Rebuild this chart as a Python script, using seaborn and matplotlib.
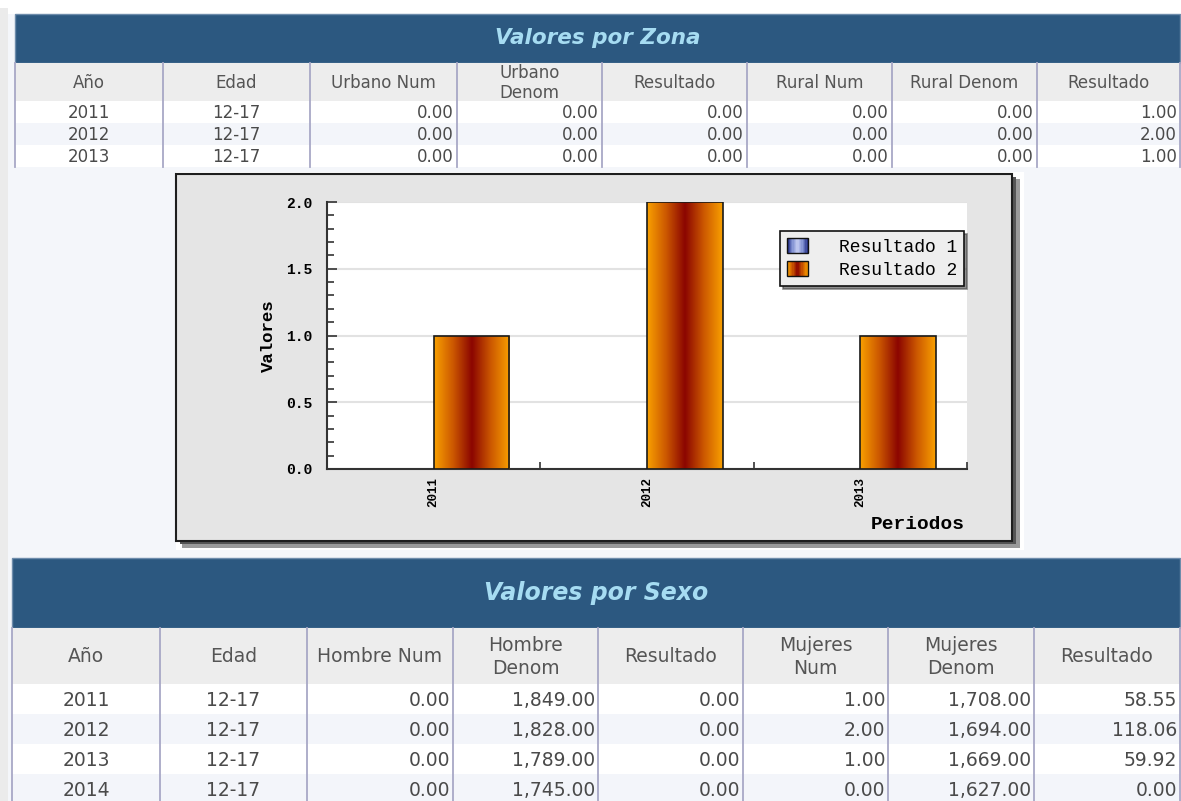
import matplotlib
matplotlib.use("Agg")
import matplotlib.pyplot as plt
import seaborn as sns
import pandas as pd
import numpy as np
from matplotlib.patches import Rectangle
from matplotlib.colors import LinearSegmentedColormap
from matplotlib.legend_handler import HandlerBase
from matplotlib.ticker import MultipleLocator, FixedLocator, FormatStrFormatter

W, H = 1181, 801

# --- Valores por Zona ---
anios_zona = ["2011", "2012", "2013"]
edad_zona = ["12-17", "12-17", "12-17"]
urbano_num = [0.0, 0.0, 0.0]
urbano_denom = [0.0, 0.0, 0.0]
resultado_urbano = [0.0, 0.0, 0.0]
rural_num = [0.0, 0.0, 0.0]
rural_denom = [0.0, 0.0, 0.0]
resultado_rural = [1.0, 2.0, 1.0]
cols_zona = ["Año", "Edad", "Urbano Num", "Urbano\nDenom", "Resultado",
             "Rural Num", "Rural Denom", "Resultado"]

# --- Valores por Sexo ---
anios_sexo = ["2011", "2012", "2013", "2014"]
edad_sexo = ["12-17", "12-17", "12-17", "12-17"]
hombre_num = [0.0, 0.0, 0.0, 0.0]
hombre_denom = [1849.0, 1828.0, 1789.0, 1745.0]
resultado_hombre = [0.0, 0.0, 0.0, 0.0]
mujeres_num = [1.0, 2.0, 1.0, 0.0]
mujeres_denom = [1708.0, 1694.0, 1669.0, 1627.0]
resultado_mujeres = [58.55, 118.06, 59.92, 0.00]
cols_sexo = ["Año", "Edad", "Hombre Num", "Hombre\nDenom", "Resultado",
             "Mujeres\nNum", "Mujeres\nDenom", "Resultado"]

# --- grafico ---
periodos = ["2011", "2012", "2013"]
series = ["Resultado 1", "Resultado 2"]

AZUL = "#2c5880"
TITULO = "#a6dcf2"
SEP = "#a8a8c6"
TXT = "#4a4a4a"

plt.rcParams["font.family"] = ["Liberation Mono", "DejaVu Sans"]

fig = plt.figure(figsize=(W / 100, H / 100), dpi=100, facecolor="#f4f6fa")
bg = fig.add_axes([0, 0, 1, 1])
bg.set_xlim(0, W)
bg.set_ylim(H, 0)
bg.axis("off")

bg.add_patch(Rectangle((0, 0), W, 14, fc="white", ec="none"))
bg.add_patch(Rectangle((0, 8), 8, H, fc="#ebebeb", ec="none"))


def fmt(v):
    return f"{v:,.2f}"


def tabla(titulo, cols, filas, xs, y_bar, y_head, y_rows, fs_t, fs, ls):
    x0, x1 = xs[0], xs[-1]
    bg.add_patch(Rectangle((x0, y_bar[0]), x1 - x0, y_bar[1] - y_bar[0],
                           fc=AZUL, ec="#6e8cab", lw=1))
    bg.text((x0 + x1) / 2, sum(y_bar) / 2, titulo, ha="center", va="center",
            color=TITULO, fontsize=fs_t, fontweight="bold", fontstyle="italic",
            family="DejaVu Sans")
    bg.add_patch(Rectangle((x0, y_head[0]), x1 - x0, y_head[1] - y_head[0],
                           fc="#ededed", ec="none"))
    for c, nombre in enumerate(cols):
        bg.text((xs[c] + xs[c + 1]) / 2, sum(y_head) / 2 + 1, nombre,
                ha="center", va="center", color="#555555", fontsize=fs,
                family="DejaVu Sans", linespacing=ls)
    for r, fila in enumerate(filas):
        top, bot = y_rows[r], y_rows[r + 1]
        bg.add_patch(Rectangle((x0, top), x1 - x0, bot - top,
                               fc="white" if r % 2 == 0 else "#f3f5fa", ec="none"))
        yc = (top + bot) / 2 + 1
        for c, val in enumerate(fila):
            if c < 2:
                bg.text((xs[c] + xs[c + 1]) / 2, yc, val, ha="center", va="center",
                        color=TXT, fontsize=fs, family="DejaVu Sans")
            else:
                bg.text(xs[c + 1] - 3, yc, val, ha="right", va="center",
                        color=TXT, fontsize=fs, family="DejaVu Sans")
    for x in xs:
        bg.plot([x, x], [y_head[0], y_rows[-1]], color=SEP, lw=1.3)


filas_zona = list(zip(anios_zona, edad_zona,
                      *[[fmt(v) for v in s] for s in
                        (urbano_num, urbano_denom, resultado_urbano,
                         rural_num, rural_denom, resultado_rural)]))
tabla("Valores por Zona", cols_zona, filas_zona,
      [15, 163, 310, 457, 602, 747, 892, 1037, 1180],
      (14, 63), (63, 101), [101, 123, 145, 167], 15.5, 12, 1.15)

filas_sexo = list(zip(anios_sexo, edad_sexo,
                      *[[fmt(v) for v in s] for s in
                        (hombre_num, hombre_denom, resultado_hombre,
                         mujeres_num, mujeres_denom, resultado_mujeres)]))
tabla("Valores por Sexo", cols_sexo, filas_sexo,
      [12, 160, 307, 453, 598, 743, 888, 1034, 1180],
      (558, 628), (628, 684), [684, 714, 744, 774, 804], 17, 13.5, 1.3)

# panel del grafico
bg.add_patch(Rectangle((176, 172), 848, 378, fc="white", ec="none"))
bg.add_patch(Rectangle((182, 179), 838, 369, fc="#9a9a9a", ec="none"))
bg.add_patch(Rectangle((180, 177), 836, 367, fc="#555555", ec="none"))
bg.add_patch(Rectangle((176, 174), 836, 367, fc="#e5e5e5", ec="#1e1e1e", lw=1.5))

ax = fig.add_axes([327 / W, 1 - 469 / H, 640 / W, 267 / H])
df = pd.DataFrame({
    "Periodo": periodos * 2,
    "Serie": [series[0]] * len(periodos) + [series[1]] * len(periodos),
    "Valor": resultado_urbano + resultado_rural,
})
sns.barplot(data=df, x="Periodo", y="Valor", hue="Serie", hue_order=series,
            palette={series[0]: "#4050a0", series[1]: "#d06000"},
            width=0.71, edgecolor="#1a1a1a", linewidth=1.2, legend=False,
            ax=ax, zorder=3)

naranja = LinearSegmentedColormap.from_list(
    "naranja", ["#f9a000", "#cc5800", "#8b0500", "#cc5800", "#f9a000"])
azul = LinearSegmentedColormap.from_list(
    "azul", ["#1f2b85", "#8090d2", "#c4ccf2", "#8090d2", "#1f2b85"])

grad = np.linspace(0, 1, 256).reshape(1, -1)
for p in list(ax.patches):
    if p.get_height() > 0:
        x, y, w, h = p.get_x(), p.get_y(), p.get_width(), p.get_height()
        im = ax.imshow(grad, cmap=naranja, extent=[x, x + w, y, y + h],
                       aspect="auto", zorder=3.5, interpolation="bicubic")
        im.set_clip_path(p)
        p.set_facecolor("none")
        p.set_zorder(4)
    else:
        p.set_linewidth(0)

ax.set_xlim(-0.5, 2.5)
ax.set_ylim(0, 2.0)
ax.set_facecolor("white")
ax.set_axisbelow(True)
ax.yaxis.grid(True, color="#e2e2e2", lw=1.5)
for s in ("top", "right"):
    ax.spines[s].set_visible(False)
for s in ("left", "bottom"):
    ax.spines[s].set_color("#333333")
    ax.spines[s].set_linewidth(1.5)

ax.yaxis.set_major_locator(MultipleLocator(0.5))
ax.yaxis.set_minor_locator(MultipleLocator(0.1))
ax.yaxis.set_major_formatter(FormatStrFormatter("%.1f"))
ax.xaxis.set_minor_locator(FixedLocator([0.5, 1.5, 2.5]))
ax.tick_params(axis="y", which="major", direction="in", length=7.5, width=1.2,
               color="#333333", pad=10.5, labelsize=10.5)
ax.tick_params(axis="y", which="minor", direction="in", length=5, width=1.2,
               color="#333333")
ax.tick_params(axis="x", which="minor", direction="in", length=5, width=1.2,
               color="#333333")
ax.tick_params(axis="x", which="major", length=0, pad=6, labelsize=9,
               labelrotation=90)
for lab in ax.get_xticklabels() + ax.get_yticklabels():
    lab.set_fontweight("bold")

ax.set_ylabel("Valores", fontsize=12.5, fontweight="bold")
ax.yaxis.set_label_coords(-0.08, 0.5)
ax.set_xlabel("Periodos", fontsize=14, fontweight="bold", ha="right")
ax.xaxis.set_label_coords(0.997, -0.175)


class Degradado(HandlerBase):
    def __init__(self, cmap):
        super().__init__()
        self.cmap = cmap

    def create_artists(self, legend, orig_handle, xdescent, ydescent,
                       width, height, fontsize, trans):
        n = 16
        arts = []
        for i in range(n):
            arts.append(Rectangle((-xdescent + i * width / n, -ydescent),
                                  width / n + 0.3, height,
                                  fc=self.cmap((i + 0.5) / n), ec="none",
                                  transform=trans))
        arts.append(Rectangle((-xdescent, -ydescent), width, height, fc="none",
                              ec="#111111", lw=1, transform=trans))
        return arts


h1 = Rectangle((0, 0), 1, 1)
h2 = Rectangle((0, 0), 1, 1)
leg = ax.legend([h1, h2], series, handler_map={h1: Degradado(azul), h2: Degradado(naranja)},
                loc="upper left", bbox_to_anchor=(780 / W, 1 - 231 / H),
                bbox_transform=fig.transFigure, borderaxespad=0,
                fontsize=13, handlelength=1.15, handleheight=0.9,
                handletextpad=1.7, labelspacing=0.3, borderpad=0.4,
                fancybox=False, shadow={"color": "#444444", "alpha": 0.6},
                facecolor="#eeeeee", edgecolor="#111111", framealpha=1)
leg.get_frame().set_linewidth(1.2)

fig.savefig("out.png", dpi=100, facecolor=fig.get_facecolor())
